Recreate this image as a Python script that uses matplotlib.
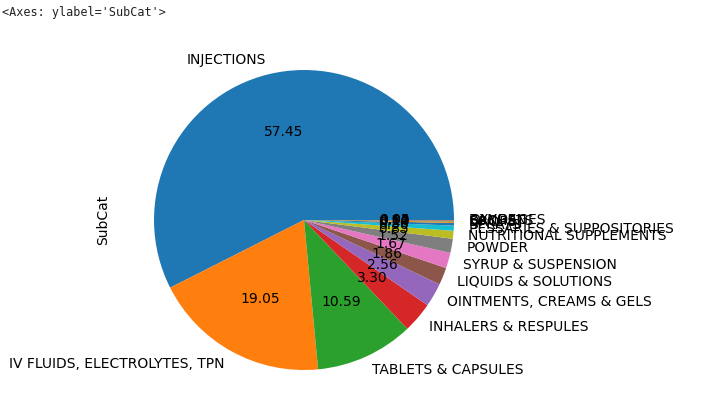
import pandas as pd
import matplotlib
matplotlib.use("Agg")
import matplotlib.pyplot as plt

# share of each sub-category (percent)
categories = [
    "INJECTIONS", "IV FLUIDS, ELECTROLYTES, TPN", "TABLETS & CAPSULES",
    "INHALERS & RESPULES", "OINTMENTS, CREAMS & GELS", "LIQUIDS & SOLUTIONS",
    "SYRUP & SUSPENSION", "POWDER", "NUTRITIONAL SUPPLEMENTS",
    "PESSARIES & SUPPOSITORIES", "SPRAYS", "DROPS", "SACHETS", "BANDAGES",
    "OXYGEN",
]
shares = [57.45, 19.05, 10.59, 3.30, 2.56, 1.86, 1.67, 1.52, 0.85, 0.56,
          0.28, 0.14, 0.10, 0.05, 0.02]

s = pd.Series(shares, index=categories, name="SubCat")

fig = plt.figure(figsize=(7.07, 3.99), dpi=100)
ax = fig.add_axes([0.1648, -0.0213, 0.5304, 0.9398])
s.plot(kind="pie", ax=ax, autopct="%.2f", fontsize=10)
ax.set_position([0.1648, -0.0213, 0.5304, 0.9398])
ax.yaxis.set_label_coords(-0.017, 0.5)

fig.text(0.003, 0.985, "<Axes: ylabel='SubCat'>", family="DejaVu Sans Mono",
         fontsize=8.5, va="top", ha="left", color="#222222")

fig.savefig("out.png", dpi=100)
